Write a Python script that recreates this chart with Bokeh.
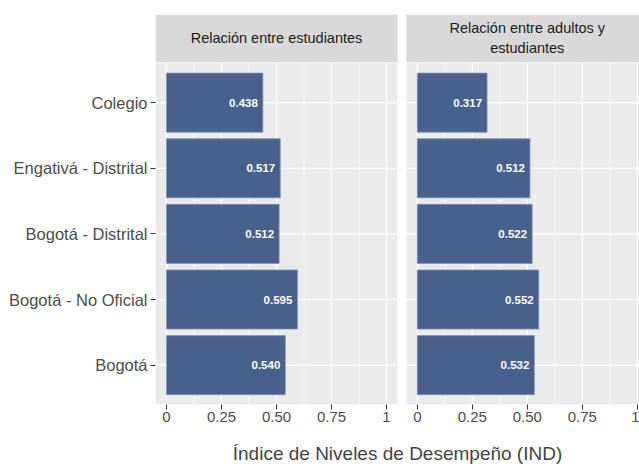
from bokeh.plotting import figure
from bokeh.models import Range1d, FixedTicker, ColumnDataSource
from bokeh.core.properties import value
from bokeh.embed import file_html
from bokeh.resources import INLINE

# ---- data ----
categories = ["Bogotá", "Bogotá - No Oficial", "Bogotá - Distrital", "Engativá - Distrital", "Colegio"]
panels = ["Relación entre estudiantes", "Relación entre adultos y\nestudiantes"]
vals_estudiantes = [0.540, 0.595, 0.512, 0.517, 0.438]
vals_adultos = [0.532, 0.552, 0.522, 0.512, 0.317]
x_ticks = [0, 0.25, 0.5, 0.75, 1]
x_tick_labels = ["0", "0.25", "0.50", "0.75", "1"]
x_minor = [0.125, 0.375, 0.625, 0.875]
x_title = "Índice de Niveles de Desempeño (IND)"

FONT = "Liberation Sans"
OFF = 1.14           # horizontal offset of second panel
PX0, PX1 = -0.05, 1.05
PY0, PY1 = 0.4, 5.6
STRIP_TOP = 6.343
BAR_COLOR = "#47618C"

p = figure(width=639, height=468, output_backend="svg", toolbar_location=None,
           x_range=Range1d(-0.05, 2.15), y_range=Range1d(PY0, STRIP_TOP),
           min_border_left=155, min_border_right=0, min_border_top=14, min_border_bottom=64)
p.outline_line_color = None
p.xgrid.visible = False
p.ygrid.visible = False
p.background_fill_color = "white"

offsets = [0, OFF]
series = [vals_estudiantes, vals_adultos]
ypos = list(range(1, len(categories) + 1))

for off, vals, title in zip(offsets, series, panels):
    # panel background
    p.quad(left=[off + PX0], right=[off + PX1], bottom=[PY0], top=[PY1],
           fill_color="#EBEBEB", line_color=None)
    # minor vertical grid
    p.segment(x0=[off + m for m in x_minor], x1=[off + m for m in x_minor],
              y0=[PY0] * len(x_minor), y1=[PY1] * len(x_minor),
              line_color="white", line_width=0.6)
    # major vertical grid
    p.segment(x0=[off + t for t in x_ticks], x1=[off + t for t in x_ticks],
              y0=[PY0] * len(x_ticks), y1=[PY1] * len(x_ticks),
              line_color="white", line_width=1.2)
    # major horizontal grid
    p.segment(x0=[off + PX0] * len(ypos), x1=[off + PX1] * len(ypos),
              y0=ypos, y1=ypos, line_color="white", line_width=1.2)
    # bars
    src = ColumnDataSource(dict(y=ypos, left=[off] * len(vals),
                                right=[off + v for v in vals],
                                lab=[f"{v:.3f}" for v in vals]))
    p.hbar(y="y", left="left", right="right", height=0.9, source=src,
           fill_color=BAR_COLOR, line_color="#7F92B0", line_width=0.8)
    p.text(x="right", y="y", text="lab", source=src, x_offset=-5,
           text_align="right", text_baseline="middle", text_color="white",
           text_font=value(FONT), text_font_style="bold", text_font_size="11.5px")
    # strip
    p.quad(left=[off + PX0], right=[off + PX1], bottom=[PY1 + 0.015], top=[STRIP_TOP],
           fill_color="#D9D9D9", line_color=None)
    p.text(x=[off + 0.5], y=[(PY1 + 0.015 + STRIP_TOP) / 2], text=[title],
           text_align="center", text_baseline="middle", text_color="#1A1A1A",
           text_font=value(FONT), text_font_size="14.5px", text_line_height=1.25)

# axes
all_ticks = []
overrides = {}
for off in offsets:
    for t, lab in zip(x_ticks, x_tick_labels):
        v = round(off + t, 4)
        all_ticks.append(v)
        overrides[v] = lab

xa = p.xaxis[0]
xa.ticker = FixedTicker(ticks=all_ticks, minor_ticks=[])
xa.major_label_overrides = overrides
xa.axis_line_color = None
xa.major_tick_line_color = "#333333"
xa.major_tick_in = 0
xa.major_tick_out = 5
xa.minor_tick_line_color = None
xa.major_label_standoff = 2
xa.major_label_text_font = FONT
xa.major_label_text_font_size = "15px"
xa.major_label_text_color = "#4D4D4D"
xa.axis_label = x_title
xa.axis_label_text_font = FONT
xa.axis_label_text_font_size = "19px"
xa.axis_label_text_font_style = "normal"
xa.axis_label_text_color = "#444444"
xa.axis_label_standoff = 18

ya = p.yaxis[0]
ya.ticker = FixedTicker(ticks=ypos, minor_ticks=[])
ya.major_label_overrides = {y: c for y, c in zip(ypos, categories)}
ya.axis_line_color = None
ya.major_tick_line_color = "#333333"
ya.major_tick_in = 0
ya.major_tick_out = 5
ya.minor_tick_line_color = None
ya.major_label_standoff = 3
ya.major_label_text_font = FONT
ya.major_label_text_font_size = "16.5px"
ya.major_label_text_color = "#4D4D4D"

open("out.html", "w").write(file_html(p, INLINE))
